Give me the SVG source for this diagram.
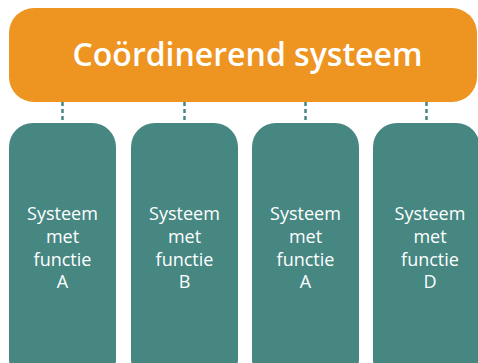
<svg xmlns="http://www.w3.org/2000/svg" width="478" height="363" viewBox="0 0 478 363">
<style>
.top{fill:#EE9421}
.box{fill:#468782}
.conn{stroke:#468782;stroke-width:2.5;stroke-dasharray:4 3;fill:none}
.t1{font-family:"Open Sans",sans-serif;font-weight:600;font-size:32px;fill:#fff;text-anchor:middle}
.t2{font-family:"Open Sans",sans-serif;font-size:18px;fill:#fff;text-anchor:middle}
</style>
<rect width="478" height="363" fill="#fff"/>
<g id="connectors">
<line class="conn" x1="62.5" y1="102" x2="62.5" y2="123"/>
<line class="conn" x1="184.5" y1="102" x2="184.5" y2="123"/>
<line class="conn" x1="305.5" y1="102" x2="305.5" y2="123"/>
<line class="conn" x1="426.5" y1="102" x2="426.5" y2="123"/>
</g>
<g id="coord">
<rect class="top" x="9" y="8" width="468" height="94" rx="25"/>
<text class="t1" x="247.5" y="66">Coördinerend systeem</text>
</g>
<g id="sysA1">
<rect class="box" x="9" y="123" width="107" height="260" rx="24"/>
<text class="t2"><tspan x="62.5" y="220">Systeem</tspan><tspan x="62.5" y="243">met</tspan><tspan x="62.5" y="266">functie</tspan><tspan x="62.5" y="288">A</tspan></text>
</g>
<g id="sysB">
<rect class="box" x="131" y="123" width="107" height="260" rx="24"/>
<text class="t2"><tspan x="184.5" y="220">Systeem</tspan><tspan x="184.5" y="243">met</tspan><tspan x="184.5" y="266">functie</tspan><tspan x="184.5" y="288">B</tspan></text>
</g>
<g id="sysA2">
<rect class="box" x="252" y="123" width="107" height="260" rx="24"/>
<text class="t2"><tspan x="305.5" y="220">Systeem</tspan><tspan x="305.5" y="243">met</tspan><tspan x="305.5" y="266">functie</tspan><tspan x="305.5" y="288">A</tspan></text>
</g>
<g id="sysD">
<rect class="box" x="373" y="123" width="107" height="260" rx="24"/>
<text class="t2"><tspan x="430" y="220">Systeem</tspan><tspan x="430" y="243">met</tspan><tspan x="430" y="266">functie</tspan><tspan x="430" y="288">D</tspan></text>
</g>
</svg>
